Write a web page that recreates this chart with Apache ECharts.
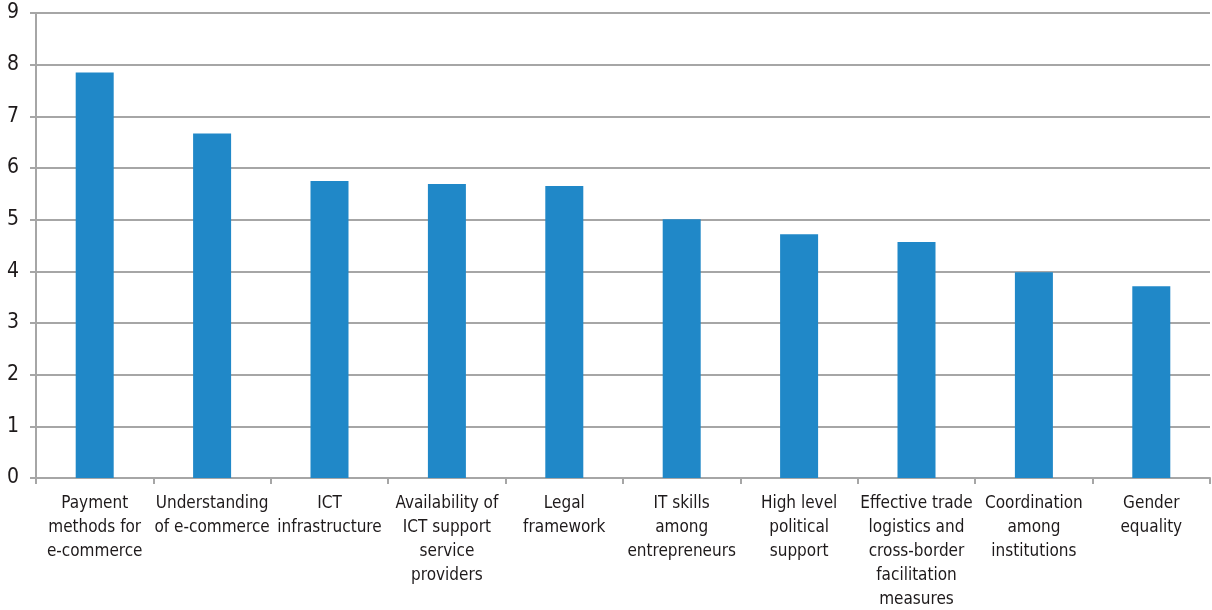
<!DOCTYPE html>
<html>
<head>
<meta charset="utf-8">
<script src="https://cdn.jsdelivr.net/npm/echarts@6/dist/echarts.min.js"></script>
<style>
  html, body { margin: 0; padding: 0; background: #fff; }
  #chart { width: 1212px; height: 610px; }
</style>
</head>
<body>
<div id="chart"></div>
<script>
// Factors for e-commerce development, average score
const categories = [
  'Payment\nmethods for\ne-commerce',
  'Understanding\nof e-commerce',
  'ICT\ninfrastructure',
  'Availability of\nICT support\nservice\nproviders',
  'Legal\nframework',
  'IT skills\namong\nentrepreneurs',
  'High level\npolitical\nsupport',
  'Effective trade\nlogistics and\ncross-border\nfacilitation\nmeasures',
  'Coordination\namong\ninstitutions',
  'Gender\nequality'
];
const scores = [7.85, 6.67, 5.75, 5.69, 5.65, 5.01, 4.72, 4.57, 3.98, 3.71];
const yTicks = [0, 1, 2, 3, 4, 5, 6, 7, 8, 9];

const font = '"Liberation Sans Narrow", "DejaVu Sans Condensed", sans-serif';
const chart = echarts.init(document.getElementById('chart'));
chart.setOption({
  animation: false,
  grid: { left: 36, right: 2, top: 13, bottom: 132, containLabel: false, outerBoundsMode: 'none' },
  xAxis: {
    type: 'category',
    data: categories,
    axisLine: { show: true, lineStyle: { color: '#a6a6a6', width: 2 } },
    axisTick: { show: true, length: 6, alignWithLabel: false, lineStyle: { color: '#a6a6a6', width: 2 } },
    axisLabel: {
      interval: 0,
      margin: 14,
      color: '#1e1a1b',
      fontFamily: font,
      fontSize: 17,
      lineHeight: 24
    }
  },
  yAxis: {
    type: 'value',
    min: yTicks[0],
    max: yTicks[yTicks.length - 1],
    interval: 1,
    axisLine: { show: true, lineStyle: { color: '#a6a6a6', width: 2 } },
    axisTick: { show: true, length: 6, lineStyle: { color: '#a6a6a6', width: 2 } },
    splitLine: { show: true, lineStyle: { color: '#a6a6a6', width: 2 } },
    axisLabel: {
      margin: 17,
      color: '#1e1a1b',
      fontFamily: font,
      fontSize: 21
    }
  },
  series: [{
    type: 'bar',
    data: scores,
    barWidth: 38,
    itemStyle: { color: '#2088c8' }
  }]
});
</script>
</body>
</html>
